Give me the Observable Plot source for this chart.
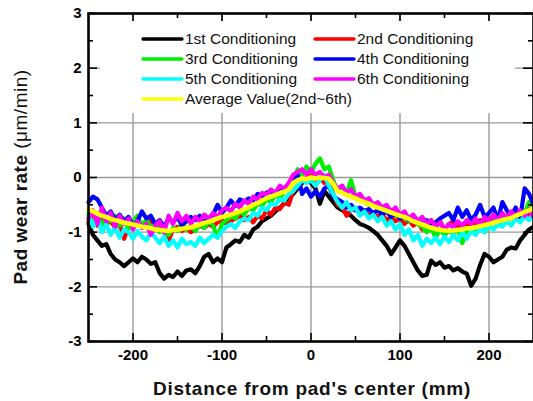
<!DOCTYPE html>
<html><head><meta charset="utf-8">
<script src="https://cdn.jsdelivr.net/npm/d3@7"></script>
<script src="https://cdn.jsdelivr.net/npm/@observablehq/plot@0.6"></script>
<style>body{margin:0;background:#fff} svg{display:block}</style>
</head><body><div id="chart"></div>
<script>
const distance = [-250,-245,-240,-235,-230,-225,-220,-215,-210,-205,-200,-195,-190,-185,-180,-175,-170,-165,-160,-155,-150,-145,-140,-135,-130,-125,-120,-115,-110,-105,-100,-95,-90,-85,-80,-75,-70,-65,-60,-55,-50,-45,-40,-35,-30,-25,-20,-15,-10,-5,0,5,10,15,20,25,30,35,40,45,50,55,60,65,70,75,80,85,90,95,100,105,110,115,120,125,130,135,140,145,150,155,160,165,170,175,180,185,190,195,200,205,210,215,220,225,230,235,240,245,250];

const cond1 = [-0.85,-1.05,-1.15,-1.25,-1.22,-1.40,-1.50,-1.55,-1.62,-1.55,-1.48,-1.55,-1.45,-1.50,-1.58,-1.55,-1.75,-1.85,-1.78,-1.82,-1.72,-1.80,-1.70,-1.68,-1.75,-1.62,-1.45,-1.40,-1.55,-1.48,-1.55,-1.28,-1.22,-1.15,-1.18,-1.05,-1.10,-0.95,-0.90,-0.80,-0.75,-0.70,-0.62,-0.55,-0.48,-0.38,-0.30,-0.20,-0.10,-0.05,-0.10,-0.20,-0.48,-0.25,-0.35,-0.45,-0.55,-0.60,-0.65,-0.70,-0.78,-0.85,-0.88,-0.92,-0.98,-1.05,-1.15,-1.25,-1.40,-1.28,-1.15,-1.25,-1.40,-1.55,-1.70,-1.80,-1.78,-1.52,-1.60,-1.55,-1.65,-1.62,-1.70,-1.66,-1.72,-1.76,-1.98,-1.85,-1.60,-1.40,-1.45,-1.55,-1.50,-1.45,-1.32,-1.28,-1.30,-1.15,-1.05,-0.95,-0.90];

const cond2 = [-0.80,-0.70,-0.88,-0.75,-0.85,-0.80,-0.92,-0.85,-1.12,-0.90,-0.85,-0.80,-0.92,-0.85,-0.78,-0.95,-0.85,-1.00,-1.15,-0.95,-0.90,-0.98,-0.92,-1.00,-0.95,-0.88,-0.92,-0.85,-0.90,-0.82,-0.78,-0.85,-0.80,-0.75,-0.70,-0.78,-0.72,-0.82,-0.70,-0.75,-0.60,-0.68,-0.55,-0.58,-0.45,-0.50,-0.25,-0.15,-0.05,0.00,0.05,-0.05,0.00,-0.10,-0.05,-0.30,-0.50,-0.55,-0.70,-0.60,-0.58,-0.65,-0.60,-0.70,-0.65,-0.72,-0.68,-0.78,-0.72,-0.80,-0.75,-0.85,-0.78,-0.88,-0.82,-0.95,-0.85,-0.78,-0.92,-0.80,-0.95,-0.85,-0.80,-0.90,-0.85,-0.88,-0.82,-0.85,-0.78,-0.82,-0.75,-0.80,-0.72,-0.78,-0.70,-0.75,-0.68,-0.72,-0.65,-0.70,-0.62];

const cond3 = [-0.70,-0.85,-0.65,-0.90,-0.72,-0.80,-0.70,-0.88,-0.75,-0.95,-0.82,-0.70,-0.88,-0.78,-0.92,-0.85,-1.00,-0.90,-1.05,-0.92,-0.98,-0.85,-0.95,-0.88,-0.98,-0.85,-0.92,-0.80,-0.88,-1.10,-0.85,-0.78,-0.70,-0.75,-0.62,-0.68,-0.55,-0.60,-0.48,-0.52,-0.40,-0.45,-0.32,-0.38,-0.25,-0.20,-0.05,0.15,0.05,0.20,0.10,0.25,0.35,0.15,0.20,-0.05,-0.25,-0.15,-0.30,-0.05,-0.35,-0.40,-0.45,-0.50,-0.48,-0.55,-0.60,-0.58,-0.65,-0.70,-0.68,-0.75,-0.80,-0.78,-0.85,-0.90,-1.00,-0.92,-1.10,-0.95,-1.05,-0.98,-1.02,-0.95,-1.20,-0.98,-0.90,-0.95,-0.85,-1.00,-0.90,-0.80,-0.88,-0.75,-0.82,-0.70,-0.60,-0.78,-0.65,-0.45,-0.55];

const cond4 = [-0.45,-0.35,-0.40,-0.55,-0.70,-0.62,-0.78,-0.68,-0.80,-0.72,-0.88,-0.80,-0.62,-0.75,-0.70,-0.85,-0.78,-0.90,-0.75,-0.82,-0.72,-0.88,-0.80,-0.72,-0.78,-0.70,-0.82,-0.75,-0.68,-0.50,-0.65,-0.55,-0.42,-0.52,-0.40,-0.45,-0.38,-0.42,-0.30,-0.35,-0.28,-0.25,-0.30,-0.18,-0.22,-0.10,-0.05,0.05,-0.30,-0.20,-0.35,-0.25,-0.35,-0.20,-0.15,-0.35,-0.40,-0.45,-0.55,-0.50,-0.60,-0.55,-0.62,-0.58,-0.65,-0.60,-0.68,-0.62,-0.72,-0.65,-0.75,-0.70,-0.78,-0.72,-0.80,-0.85,-0.78,-0.88,-0.82,-0.75,-0.70,-0.65,-0.78,-0.55,-0.72,-0.60,-0.78,-0.68,-0.50,-0.72,-0.65,-0.55,-0.78,-0.45,-0.60,-0.70,-0.55,-0.75,-0.20,-0.30,-0.50];

const cond5 = [-0.65,-0.90,-0.75,-1.00,-0.85,-1.05,-0.90,-1.10,-0.95,-1.00,-1.12,-0.98,-1.08,-1.15,-1.00,-1.10,-1.20,-1.08,-1.25,-1.15,-1.28,-1.12,-1.22,-1.18,-1.25,-1.10,-1.20,-1.12,-1.05,-1.10,-0.98,-0.90,-0.85,-0.92,-0.80,-0.75,-0.78,-0.65,-0.70,-0.55,-0.60,-0.48,-0.50,-0.40,-0.42,-0.30,-0.25,-0.15,-0.05,-0.10,-0.05,-0.15,-0.05,0.05,-0.15,-0.30,-0.45,-0.55,-0.45,-0.60,-0.55,-0.70,-0.62,-0.75,-0.68,-0.80,-0.72,-0.88,-0.80,-0.95,-0.85,-1.05,-0.95,-1.15,-1.05,-1.25,-1.12,-1.20,-1.10,-1.22,-1.08,-1.18,-1.05,-1.15,-1.00,-1.12,-0.98,-1.05,-0.92,-1.00,-0.88,-0.95,-0.85,-0.90,-0.80,-0.88,-0.75,-0.82,-0.70,-0.78,-0.65];

const cond6 = [-0.75,-0.60,-0.85,-0.55,-0.80,-0.65,-0.90,-0.70,-0.85,-0.75,-0.95,-0.80,-0.92,-0.85,-1.05,-0.88,-0.80,-1.00,-0.70,-0.85,-0.65,-0.80,-0.70,-0.85,-0.72,-0.80,-0.68,-0.75,-0.65,-0.72,-0.60,-0.55,-0.62,-0.48,-0.55,-0.42,-0.48,-0.35,-0.40,-0.28,-0.32,-0.22,-0.28,-0.15,-0.20,-0.10,0.05,0.10,0.15,0.05,0.15,0.05,0.10,0.00,0.05,-0.10,-0.20,-0.15,-0.28,-0.22,-0.35,-0.30,-0.42,-0.38,-0.50,-0.45,-0.55,-0.50,-0.62,-0.55,-0.68,-0.62,-0.75,-0.68,-0.80,-0.72,-0.85,-0.78,-0.90,-0.82,-0.95,-0.85,-0.92,-0.80,-0.88,-0.78,-0.85,-0.75,-0.88,-0.72,-0.80,-0.68,-0.78,-0.65,-0.75,-0.62,-0.72,-0.60,-0.70,-0.58,-0.72];

const average = [-0.58,-0.62,-0.66,-0.70,-0.72,-0.76,-0.78,-0.80,-0.83,-0.84,-0.86,-0.88,-0.90,-0.91,-0.93,-0.95,-0.96,-0.97,-0.98,-0.96,-0.95,-0.94,-0.92,-0.91,-0.89,-0.86,-0.83,-0.81,-0.78,-0.75,-0.72,-0.70,-0.68,-0.65,-0.62,-0.58,-0.55,-0.50,-0.47,-0.42,-0.38,-0.35,-0.32,-0.29,-0.26,-0.22,-0.10,-0.05,-0.02,-0.03,0.00,-0.02,0.00,-0.01,-0.02,-0.12,-0.25,-0.28,-0.32,-0.35,-0.38,-0.42,-0.45,-0.48,-0.52,-0.55,-0.58,-0.61,-0.64,-0.67,-0.70,-0.72,-0.76,-0.80,-0.83,-0.86,-0.89,-0.92,-0.94,-0.96,-0.97,-0.98,-0.97,-0.96,-0.95,-0.93,-0.93,-0.91,-0.89,-0.87,-0.85,-0.83,-0.80,-0.78,-0.76,-0.74,-0.70,-0.67,-0.63,-0.60,-0.57];

const seriesNames = ["1st Conditioning","2nd Conditioning","3rd Conditioning","4th Conditioning","5th Conditioning","6th Conditioning","Average Value(2nd~6th)"];
const seriesColors = ["#000000","#ff0000","#00ee00","#0000ff","#00ffff","#ff00ff","#ffff00"];
const seriesValues = [cond1, cond2, cond3, cond4, cond5, cond6, average];

const xTicks = [-200,-100,0,100,200];
const xMinorTicks = [-150,-50,50,150];
const yTicks = [-3,-2,-1,0,1,2,3];
const yMinorTicks = [-2.5,-1.5,-0.5,0.5,1.5,2.5];
const xGrid = [-200,-100,0,100,200];
const yGrid = [-2,-1,0,1,2];

const W = 533, H = 401, mL = 88, mT = 13, mR = 0, mB = 60;
const plotW = W - mL - mR, plotH = H - mT - mB;
const FONT = "'Liberation Sans', Arial, sans-serif";

const rows = [];
seriesValues.forEach((vals, i) => vals.forEach((v, j) => rows.push({series: seriesNames[i], x: distance[j], y: v})));

const lineMarks = seriesNames.map((name, i) =>
  Plot.line(rows.filter(d => d.series === name), {x: "x", y: "y", stroke: seriesColors[i], strokeWidth: i === 6 ? 4.6 : 4.2, strokeLinejoin: "round", strokeLinecap: "round"}));

const tickStyle = {stroke: "black", strokeWidth: 1.6};
const chart = Plot.plot({
  width: W, height: H,
  marginLeft: mL, marginTop: mT, marginRight: mR, marginBottom: mB,
  style: {fontFamily: FONT, fontSize: "15px", fontWeight: "bold", color: "black", background: "white"},
  x: {domain: [-250, 250], label: null},
  y: {domain: [-3, 3], label: null},
  marks: [
    Plot.ruleX(xGrid, {x: d => d, stroke: "#9a9a9a", strokeWidth: 1.4}),
    Plot.ruleY(yGrid, {y: d => d, stroke: "#9a9a9a", strokeWidth: 1.4}),
    ...lineMarks,
    Plot.ruleX(xTicks, {x: d => d, insetTop: plotH - 8, ...tickStyle}),
    Plot.ruleX(xMinorTicks, {x: d => d, insetTop: plotH - 5, ...tickStyle}),
    Plot.ruleX(xTicks, {x: d => d, insetBottom: plotH - 8, ...tickStyle}),
    Plot.ruleX(xMinorTicks, {x: d => d, insetBottom: plotH - 5, ...tickStyle}),
    Plot.ruleY(yTicks, {y: d => d, insetRight: plotW - 9, ...tickStyle}),
    Plot.ruleY(yMinorTicks, {y: d => d, insetRight: plotW - 5, ...tickStyle}),
    Plot.ruleY(yTicks, {y: d => d, insetLeft: plotW - 10, ...tickStyle}),
    Plot.ruleY(yMinorTicks, {y: d => d, insetLeft: plotW - 5, ...tickStyle}),
    Plot.axisX(xTicks, {tickSize: 0, tickPadding: 8, tickFormat: d => String(d), fontSize: 15, fontWeight: "bold"}),
    Plot.axisY(yTicks, {tickSize: 0, tickPadding: 7, tickFormat: d => String(d), fontSize: 15, fontWeight: "bold"}),
    Plot.frame({stroke: "black", strokeWidth: 2.6})
  ]
});

const svg = d3.select(chart);
// axis titles
svg.append("text").attr("x", 312).attr("y", 395).attr("text-anchor", "middle")
  .attr("font-family", FONT).attr("font-size", 19).attr("font-weight", "bold").attr("letter-spacing", "0.75px").attr("fill", "#111")
  .text("Distance from pad's center (mm)");
const yt = svg.append("text").attr("transform", "translate(27,177) rotate(-90)").attr("text-anchor", "middle")
  .attr("font-family", FONT).attr("font-size", 19).attr("font-weight", "bold").attr("letter-spacing", "0.5px").attr("fill", "#111");
yt.append("tspan").text("Pad wear rate ");
yt.append("tspan").attr("font-weight", "normal").text("(\u03bcm/min)");

// legend
const lg = svg.append("g").attr("text-anchor", "start");
lg.append("rect").attr("x", 100).attr("y", 21).attr("width", 415).attr("height", 92).attr("fill", "white");
const legendPos = [[143,39],[315,39],[143,59],[315,59],[143,79],[315,79],[143,99]];
seriesNames.forEach((name, i) => {
  const [lx, ly] = legendPos[i];
  lg.append("line").attr("x1", lx).attr("x2", lx + 39).attr("y1", ly).attr("y2", ly)
    .attr("stroke", seriesColors[i]).attr("stroke-width", 3.3).attr("stroke-linecap", "round");
  lg.append("text").attr("x", lx + 42).attr("y", ly).attr("dy", "0.35em").attr("text-anchor", "start")
    .attr("font-family", FONT).attr("font-size", 15.5).attr("font-weight", "normal").attr("fill", "#111")
    .text(name);
});

document.getElementById("chart").appendChild(chart);
</script>
</body></html>
